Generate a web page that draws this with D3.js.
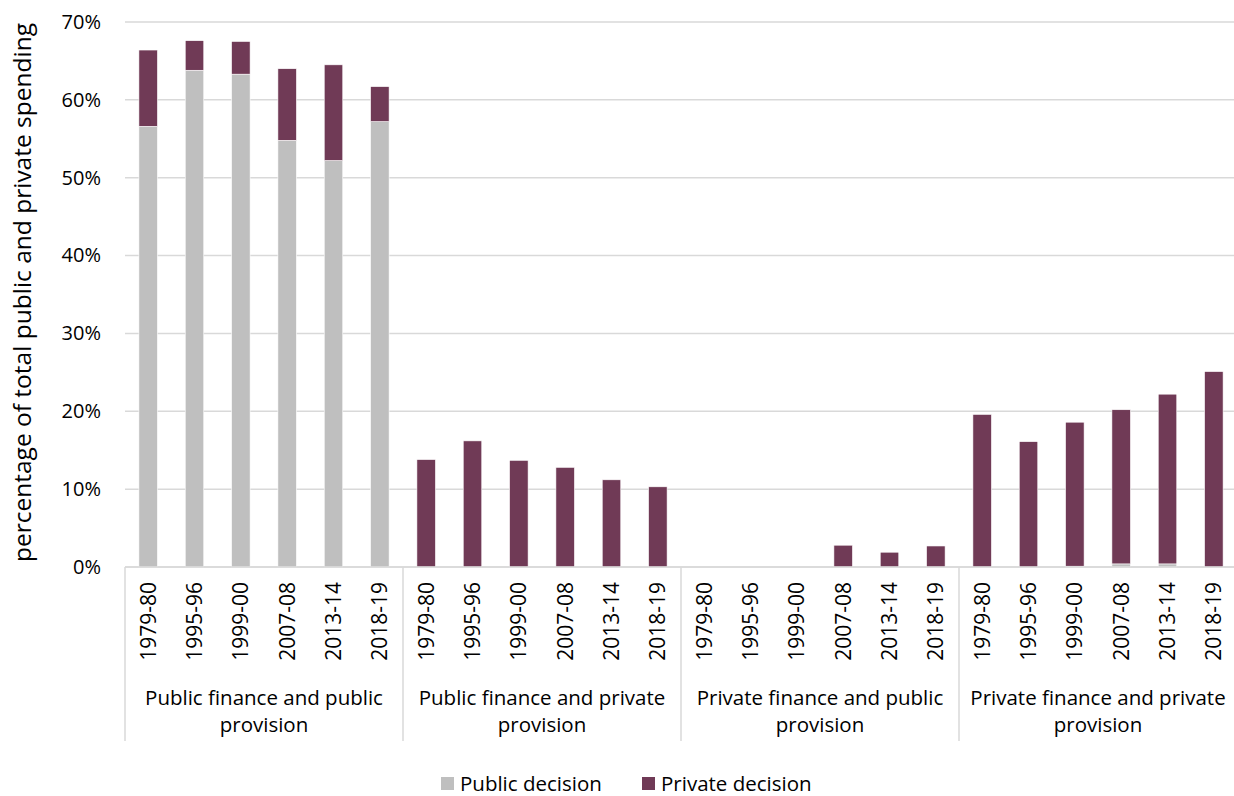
<!DOCTYPE html>
<html>
<head>
<meta charset="utf-8">
<script src="https://cdn.jsdelivr.net/npm/d3@7"></script>
<style>
  body { margin: 0; background: #fff; }
  text { font-family: "Open Sans", Lato, "Liberation Sans", sans-serif; fill: #000; }
</style>
</head>
<body>
<div id="chart"></div>
<script>
// categories and values
var groups = ["Public finance and public provision", "Public finance and private provision",
              "Private finance and public provision", "Private finance and private provision"];
var years = ["1979-80", "1995-96", "1999-00", "2007-08", "2013-14", "2018-19"];
var seriesNames = ["Public decision", "Private decision"];
var publicDecision = [56.6, 63.8, 63.3, 54.8, 52.2, 57.2,
                      0, 0, 0, 0, 0, 0,
                      0, 0, 0, 0, 0, 0,
                      0, 0, 0.1, 0.4, 0.4, 0];
var privateDecision = [9.8, 3.8, 4.2, 9.2, 12.3, 4.5,
                       13.8, 16.2, 13.7, 12.8, 11.2, 10.3,
                       0, 0, 0, 2.8, 1.9, 2.7,
                       19.6, 16.1, 18.5, 19.8, 21.8, 25.1];
var yTicks = [0, 10, 20, 30, 40, 50, 60, 70];
var colors = ["#bfbfbf", "#703a56"];

function drawChart(containerSelector) {
	var W = 1234, H = 796;
	var margin = {top: 22, right: 0, bottom: 229, left: 125},
	    width = 1237 - margin.left,
	    height = H - margin.top - margin.bottom;

	var svg = d3.select(containerSelector).append("svg")
	    .attr("width", W)
	    .attr("height", H);

	var g = svg.append("g")
	    .attr("transform", "translate(" + margin.left + "," + margin.top + ")");

	// build rows
	var data = [];
	groups.forEach(function(grp, gi) {
	  years.forEach(function(yr, yi) {
	    var i = gi * years.length + yi;
	    data.push({key: gi + "|" + yr, group: grp, year: yr,
	               pub: publicDecision[i], priv: privateDecision[i]});
	  });
	});

	var x = d3.scaleBand().domain(data.map(function(d) { return d.key; }))
	    .range([0, width]).paddingInner(0.6).paddingOuter(0.3);
	var y = d3.scaleLinear().domain([0, 70]).range([height, 0]);

	// gridlines
	g.append("g").selectAll("line").data(yTicks).enter().append("line")
	  .attr("x1", 0).attr("x2", width)
	  .attr("y1", function(d) { return y(d); }).attr("y2", function(d) { return y(d); })
	  .attr("stroke", "#d9d9d9").attr("stroke-width", 1.5);

	// y axis labels
	var yAxis = d3.axisLeft(y).tickValues(yTicks).tickSize(0).tickPadding(24)
	  .tickFormat(function(d) { return d + "%"; });
	var ya = g.append("g").call(yAxis);
	ya.select(".domain").remove();
	ya.selectAll("text").style("font-size", "20px")
	  .style("font-family", "'Open Sans', sans-serif");

	// stacked bars
	var stack = d3.stack().keys(["pub", "priv"]);
	var layers = stack(data);
	g.append("g").selectAll("g").data(layers).enter().append("g")
	  .attr("fill", function(d, i) { return colors[i]; })
	  .selectAll("rect").data(function(d) { return d; }).enter().append("rect")
	  .attr("x", function(d) { return x(d.data.key); })
	  .attr("width", x.bandwidth())
	  .attr("y", function(d) { return y(d[1]); })
	  .attr("height", function(d) { return Math.max(0, y(d[0]) - y(d[1])); })
	  .attr("stroke", "#fff").attr("stroke-width", 0.6);

	// x axis: year labels
	var xa = g.append("g").attr("transform", "translate(0," + height + ")")
	  .call(d3.axisBottom(x).tickSize(0).tickFormat(function(d) { return d.split("|")[1]; }));
	xa.select(".domain").remove();
	xa.selectAll("text")
	  .style("font-size", "21px")
	  .style("font-family", "'Open Sans', sans-serif")
	  .attr("text-anchor", "end")
	  .attr("transform", "rotate(-90)")
	  .attr("x", -15).attr("y", 0).attr("dy", "0.35em");

	// group separators and group labels
	var groupW = width / groups.length;
	var sep = d3.range(groups.length + 1);
	g.append("g").selectAll("line").data(sep).enter().append("line")
	  .attr("x1", function(d) { return d * groupW; }).attr("x2", function(d) { return d * groupW; })
	  .attr("y1", height).attr("y2", height + 174)
	  .attr("stroke", "#d9d9d9").attr("stroke-width", 1.5);

	g.append("g").selectAll("text").data(groups).enter().append("text")
	  .attr("x", function(d, i) { return (i + 0.5) * groupW; })
	  .attr("y", height + 138)
	  .attr("text-anchor", "middle")
	  .style("font-size", "20.5px")
	  .each(function(d) {
	    var parts = d.split(" ");
	    var line1 = parts.slice(0, parts.length - 1).join(" ");
	    var line2 = parts[parts.length - 1];
	    var t = d3.select(this);
	    t.append("tspan").attr("x", t.attr("x")).attr("dy", 0).text(line1);
	    t.append("tspan").attr("x", t.attr("x")).attr("dy", 27).text(line2);
	  });

	// x baseline
	g.append("line").attr("x1", 0).attr("x2", width)
	  .attr("y1", height).attr("y2", height)
	  .attr("stroke", "#d9d9d9").attr("stroke-width", 1.5);

	// y axis title
	svg.append("text")
	  .attr("transform", "translate(31," + (margin.top + height / 2 - 2) + ") rotate(-90)")
	  .attr("text-anchor", "middle")
	  .style("font-size", "24.5px")
	  .text("percentage of total public and private spending");

	// legend
	var legendX = [441, 642];
	var lg = svg.append("g").selectAll("g").data(seriesNames).enter().append("g")
	  .attr("transform", function(d, i) { return "translate(" + legendX[i] + ",777)"; });
	lg.append("rect").attr("width", 13).attr("height", 13)
	  .attr("fill", function(d, i) { return colors[i]; });
	lg.append("text").attr("x", 19).attr("y", 6.5).attr("dy", "0.35em")
	  .style("font-size", "20.5px").text(function(d) { return d; });
}

drawChart("#chart");
</script>
</body>
</html>
